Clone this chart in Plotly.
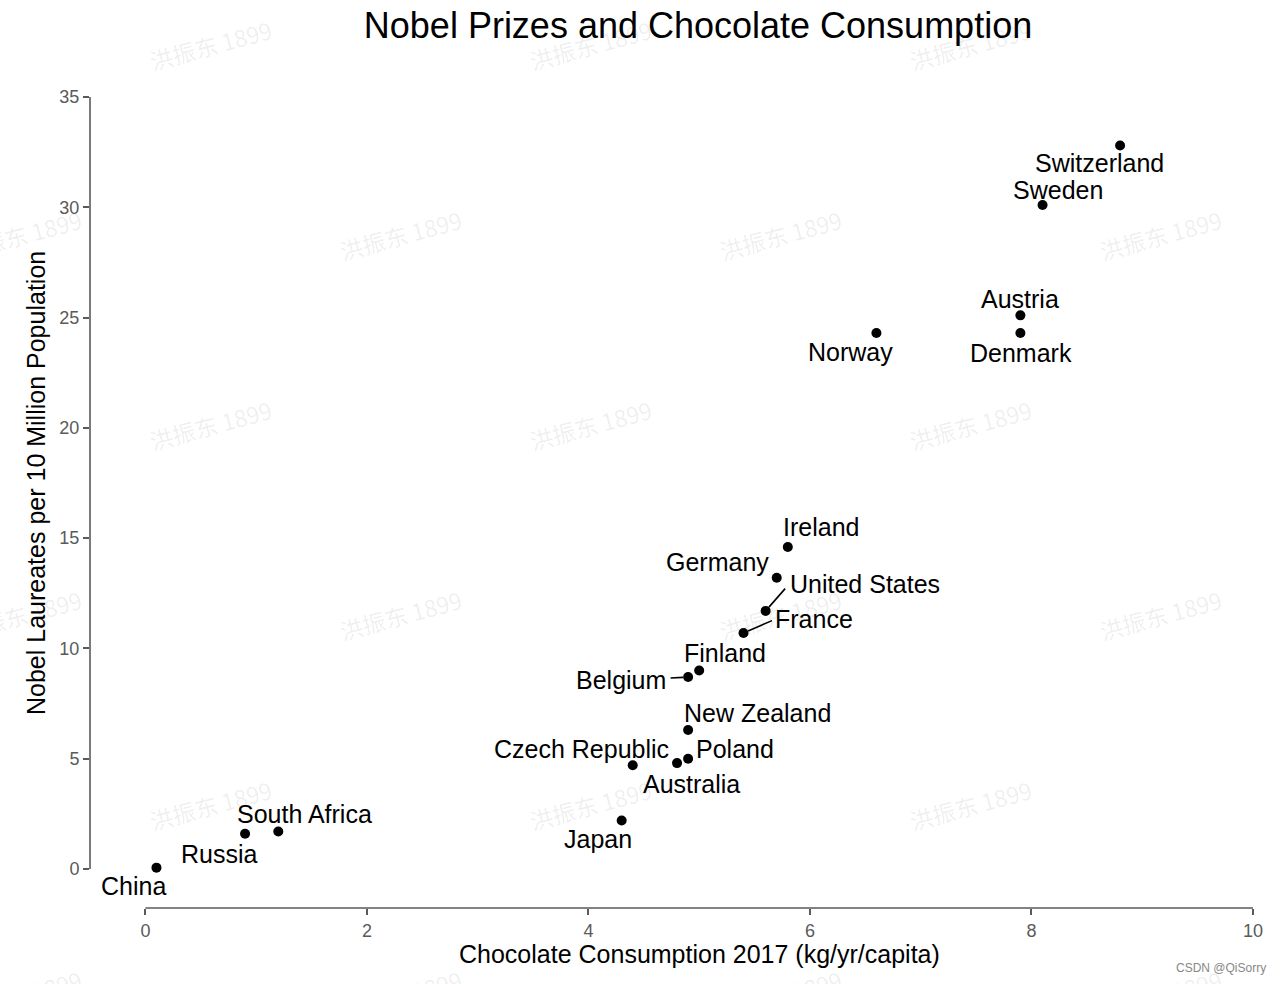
import plotly.graph_objects as go

countries = ["Switzerland", "Sweden", "Austria", "Denmark", "Norway", "Ireland",
             "Germany", "United States", "France", "Finland", "Belgium",
             "New Zealand", "Poland", "Australia", "Czech Republic", "Japan",
             "South Africa", "Russia", "China"]
chocolate = [8.8, 8.1, 7.9, 7.9, 6.6, 5.8, 5.7, 5.6, 5.4, 5.0, 4.9,
             4.9, 4.9, 4.8, 4.4, 4.3, 1.2, 0.9, 0.1]
laureates = [32.8, 30.1, 25.1, 24.3, 24.3, 14.6, 13.2, 11.7, 10.7, 9.0, 8.7,
             6.3, 5.0, 4.8, 4.7, 2.2, 1.7, 1.6, 0.06]
# label offsets in pixels (dx right, dy down)
label_dx = [-21, 15, 0, 1, -26, 33, -59, 99, 70, 26, -67, 69, 47, 14, -51, -24, 26, -26, -23]
label_dy = [17, -15, -16, 20, 19, -20, -16, -27, -14, -17, 3, -17, -10, 21, -16, 19, -17, 20, 18]
# leader segment end offsets in pixels (None = no segment)
seg_dx = [None, None, None, None, None, None, None, 21, 30, None, -19,
          None, None, None, None, None, None, None, None]
seg_dy = [None, None, None, None, None, None, None, -24, -13, None, 1,
          None, None, None, None, None, None, None, None]

FONT = "Liberation Sans, Arial, Helvetica, sans-serif"
AXC = "#5a5a5a"

fig = go.Figure()
fig.add_trace(go.Scatter(x=chocolate, y=laureates, mode="markers",
                         marker=dict(color="black", size=10), hoverinfo="skip",
                         showlegend=False))

annotations = []
L, R, T, B = 90, 1253, 97, 908


def px2paper(px, py):
    return (px - L) / (R - L), (B - py) / (B - T)


# watermarks
wm_rows = [(45, [210, 590, 970]), (235, [20, 400, 780, 1160]),
           (425, [210, 590, 970]), (615, [20, 400, 780, 1160]),
           (805, [210, 590, 970]), (995, [20, 400, 780, 1160])]
for py, xs in wm_rows:
    for px in xs:
        xx, yy = px2paper(px, py)
        annotations.append(dict(text="洪振东 1899", xref="paper", yref="paper",
                                x=xx, y=yy, xanchor="center", yanchor="middle",
                                showarrow=False, textangle=-15,
                                font=dict(family="Noto Sans CJK SC, " + FONT, size=23,
                                          color="rgba(0,0,0,0.075)")))

for name, x, y, dx, dy, sdx, sdy in zip(countries, chocolate, laureates, label_dx, label_dy,
                                         seg_dx, seg_dy):
    if sdx is not None:
        annotations.append(dict(x=x, y=y, xref="x", yref="y", text=" ",
                                showarrow=True, ax=sdx, ay=sdy, arrowhead=0,
                                arrowwidth=1.6, standoff=5, arrowcolor="black",
                                font=dict(family=FONT, size=1, color="black")))
    annotations.append(dict(x=x, y=y, xref="x", yref="y", text=name,
                            showarrow=True, ax=dx, ay=dy, arrowhead=0,
                            arrowwidth=1, arrowcolor="rgba(0,0,0,0)",
                            font=dict(family=FONT, size=25, color="black")))

xx, yy = px2paper(699, 954)
annotations.append(dict(text="Chocolate Consumption 2017 (kg/yr/capita)", xref="paper", yref="paper",
                        x=xx, y=yy, xanchor="center", yanchor="middle", showarrow=False,
                        font=dict(family=FONT, size=25, color="black")))
xx, yy = px2paper(36, 483)
annotations.append(dict(text="Nobel Laureates per 10 Million Population", xref="paper", yref="paper",
                        x=xx, y=yy, xanchor="center", yanchor="middle", showarrow=False, textangle=-90,
                        font=dict(family=FONT, size=25, color="black")))
xx, yy = px2paper(1221, 968)
annotations.append(dict(text="CSDN @QiSorry", xref="paper", yref="paper",
                        x=xx, y=yy, xanchor="center", yanchor="middle", showarrow=False,
                        font=dict(family=FONT, size=12, color="#888888")))

shapes = [
    dict(type="line", xref="x", yref="paper", x0=0, x1=10, y0=0, y1=0,
         line=dict(color=AXC, width=1.6)),
    dict(type="line", xref="paper", yref="y", x0=0, x1=0, y0=0, y1=35,
         line=dict(color=AXC, width=1.6)),
]

fig.update_layout(
    width=1280, height=984,
    margin=dict(l=L, r=1280 - R, t=T, b=984 - B),
    paper_bgcolor="white", plot_bgcolor="white",
    title=dict(text="Nobel Prizes and Chocolate Consumption", x=698 / 1280, xanchor="center",
               xref="container", y=1 - 25 / 984, yanchor="middle", yref="container",
               font=dict(family=FONT, size=36, color="black")),
    xaxis=dict(range=[-0.5, 10.0], tickvals=[0, 2, 4, 6, 8, 10], showgrid=False, zeroline=False,
               showline=False, ticks="outside", ticklen=6, tickwidth=1.6, tickcolor=AXC,
               tickfont=dict(family=FONT, size=18, color=AXC)),
    yaxis=dict(range=[-1.77, 35.0], tickvals=[0, 5, 10, 15, 20, 25, 30, 35], showgrid=False,
               zeroline=False, showline=False, ticks="outside", ticklen=6, tickwidth=1.6,
               tickcolor=AXC, tickfont=dict(family=FONT, size=18, color=AXC)),
    annotations=annotations,
    shapes=shapes,
)

fig.write_html("out.html", config={"displayModeBar": False},
               post_script="document.body.style.margin='0px';document.body.style.padding='0px';")
